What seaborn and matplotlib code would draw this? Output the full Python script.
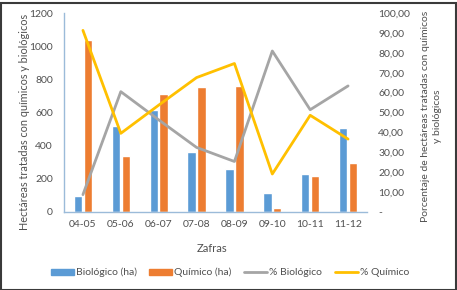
import matplotlib
matplotlib.use("Agg")
import matplotlib.pyplot as plt
import seaborn as sns
import pandas as pd
from matplotlib.patches import Rectangle, Patch
from matplotlib.lines import Line2D
from matplotlib.ticker import FuncFormatter

# ---- data ----
zafras = ["04-05", "05-06", "06-07", "07-08", "08-09", "09-10", "10-11", "11-12"]
biologico_ha = [97, 520, 615, 363, 258, 111, 228, 508]
quimico_ha = [1040, 339, 714, 756, 760, 24, 216, 293]
pct_biologico = [8.6, 60.5, 46.3, 32.4, 25.3, 81.0, 51.4, 63.4]
pct_quimico = [91.4, 39.5, 53.7, 67.6, 74.7, 19.0, 48.6, 36.6]
left_ticks = [0, 200, 400, 600, 800, 1000, 1200]
right_ticks = [0, 10, 20, 30, 40, 50, 60, 70, 80, 90, 100]

C_BIO = "#5B9BD5"
C_QUI = "#ED7D31"
C_PBIO = "#A5A5A5"
C_PQUI = "#FFC000"
TXT = "#505050"

sns.set_theme(style="white")
plt.rcParams["font.family"] = ["Lato", "DejaVu Sans"]

W, H = 457, 290
fig = plt.figure(figsize=(W / 100, H / 100), dpi=100)

x0, x1 = 64, 367
ytop, ybot = 13.3, 211.7
ax = fig.add_axes([x0 / W, 1 - ybot / H, (x1 - x0) / W, (ybot - ytop) / H])

bars = pd.DataFrame({
    "Zafra": zafras * 2,
    "Serie": ["Biológico (ha)"] * len(zafras) + ["Químico (ha)"] * len(zafras),
    "ha": biologico_ha + quimico_ha,
})
sns.barplot(data=bars, x="Zafra", y="ha", hue="Serie", order=zafras,
            palette=[C_BIO, C_QUI], width=0.52, gap=0.15, ax=ax,
            legend=False, errorbar=None, saturation=1)
ax.set_ylim(0, 1200)
ax.set_xlim(-0.5, len(zafras) - 0.5)
ax.set_yticks(left_ticks)
ax.tick_params(axis="both", length=0, labelsize=7.5, colors=TXT)
ax.tick_params(axis="y", pad=8)
ax.tick_params(axis="x", pad=6)
for s in ["top", "right"]:
    ax.spines[s].set_visible(False)
for s in ["left", "bottom"]:
    ax.spines[s].set_color("#9BBBD9")
    ax.spines[s].set_linewidth(1.0)
ax.set_xlabel("Zafras", fontsize=8, color=TXT)
ax.xaxis.set_label_coords(0.49, -0.16)
ax.set_ylabel("Hectáreas tratadas con químicos y biológicos", fontsize=7.8, color=TXT)
ax.yaxis.set_label_coords(-0.113, 0.453)

ax2 = ax.twinx()
lines = pd.DataFrame({
    "Zafra": zafras * 2,
    "Serie": ["% Biológico"] * len(zafras) + ["% Químico"] * len(zafras),
    "pct": pct_biologico + pct_quimico,
})
sns.lineplot(data=lines, x="Zafra", y="pct", hue="Serie",
             palette=[C_PBIO, C_PQUI], linewidth=2.0, ax=ax2, legend=False, sort=False)
ax2.set_xlim(-0.5, len(zafras) - 0.5)
ax2.set_ylim(0, 100)
ax2.set_yticks(right_ticks)
ax2.yaxis.set_major_formatter(FuncFormatter(
    lambda v, p: "-" if v == 0 else f"{v:.2f}".replace(".", ",")))
ax2.tick_params(axis="y", length=0, labelsize=7.5, colors=TXT, pad=8)
for s in ax2.spines.values():
    s.set_visible(False)
ax2.set_ylabel("Porcentaje de hectáreas tratadas con químicos\ny biológicos",
               fontsize=7.5, color=TXT, rotation=90, linespacing=1.5)
ax2.yaxis.set_label_coords(1.178, 0.48)

handles = [
    Patch(color=C_BIO, label="Biológico (ha)"),
    Patch(color=C_QUI, label="Químico (ha)"),
    Line2D([], [], color=C_PBIO, lw=2.0, label="% Biológico"),
    Line2D([], [], color=C_PQUI, lw=2.0, label="% Químico"),
]
fig.legend(handles=handles, loc="center", ncol=4, frameon=False,
           bbox_to_anchor=(230 / W, 1 - 272.7 / H), fontsize=7.5,
           handlelength=2.2, handleheight=0.5, handletextpad=0.2,
           columnspacing=1.2, labelcolor=TXT)

fig.patches.append(Rectangle((0.5 / W, 0.5 / H), 1 - 1.5 / W, 1 - 3.5 / H,
                             transform=fig.transFigure, fill=False,
                             edgecolor="#3A3A3A", linewidth=1.5))

fig.savefig("out.png", dpi=100)
